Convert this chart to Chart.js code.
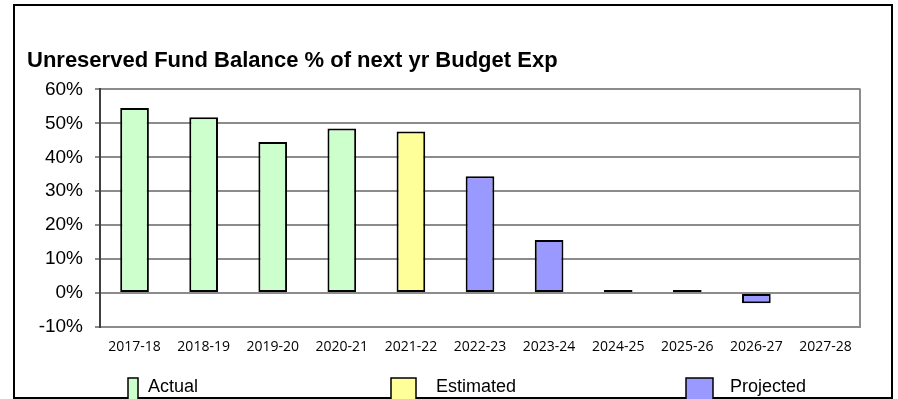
<!DOCTYPE html>
<html>
<head>
<meta charset="utf-8">
<script src="https://cdn.jsdelivr.net/npm/chart.js@4.4.1/dist/chart.umd.min.js"></script>
<style>
  html, body { margin: 0; padding: 0; background: #fff; }
  #wrap { width: 898px; height: 399px; }
</style>
</head>
<body>
<div id="wrap"><canvas id="chart" width="898" height="399"></canvas></div>
<script>
// fiscal years on the x axis
const years = ['2017-18', '2018-19', '2019-20', '2020-21', '2021-22', '2022-23',
  '2023-24', '2024-25', '2025-26', '2026-27', '2027-28'];

// unreserved fund balance as % of next year's budgeted expenditure
const actual    = [54.5, 51.8, 44.5, 48.5, null, null, null, null, null, null, null];
const estimated = [null, null, null, null, 47.6, null, null, null, null, null, null];
const projected = [null, null, null, null, null, 34.4, 15.6, 0.2, 0.9, -3.0, null];

const yTicks = [-10, 0, 10, 20, 30, 40, 50, 60];

// white page with the black outer frame
const pageFrame = {
  id: 'pageFrame',
  beforeDraw(chart) {
    const ctx = chart.ctx;
    ctx.save();
    ctx.fillStyle = '#fff';
    ctx.fillRect(0, 0, chart.width, chart.height);
    ctx.restore();
  },
  afterDraw(chart) {
    const ctx = chart.ctx;
    ctx.save();
    ctx.strokeStyle = '#000';
    ctx.lineWidth = 2;
    ctx.strokeRect(14, 5, 878, 393);
    ctx.restore();
  }
};

// gray line closing the plot area on the right
const plotRight = {
  id: 'plotRight',
  afterDraw(chart) {
    const { ctx, chartArea } = chart;
    ctx.save();
    ctx.strokeStyle = '#8c8c8c';
    ctx.lineWidth = 2;
    ctx.beginPath();
    ctx.moveTo(chartArea.right, chartArea.top - 1);
    ctx.lineTo(chartArea.right, chartArea.bottom + 1);
    ctx.stroke();
    ctx.restore();
  }
};

// legend row along the bottom edge
const bottomLegend = {
  id: 'bottomLegend',
  afterDraw(chart, args, opts) {
    const ctx = chart.ctx;
    ctx.save();
    ctx.font = opts.font;
    ctx.textBaseline = 'middle';
    chart.data.datasets.forEach((ds, i) => {
      const it = opts.items[i];
      ctx.fillStyle = ds.backgroundColor;
      ctx.fillRect(it.x, opts.boxTop, it.w, 24);
      ctx.strokeStyle = '#000';
      ctx.lineWidth = 1.5;
      ctx.strokeRect(it.x, opts.boxTop, it.w, 24);
      ctx.fillStyle = '#000';
      ctx.fillText(ds.label, it.tx, opts.textY);
    });
    ctx.restore();
  }
};

const barStyle = { borderColor: '#000', borderWidth: 2, borderSkipped: false, minBarLength: 3 };

new Chart(document.getElementById('chart'), {
  type: 'bar',
  data: {
    labels: years,
    datasets: [
      { label: 'Actual', data: actual, backgroundColor: '#ccffcc', ...barStyle },
      { label: 'Estimated', data: estimated, backgroundColor: '#ffff99', ...barStyle },
      { label: 'Projected', data: projected, backgroundColor: '#9999ff', ...barStyle }
    ]
  },
  options: {
    responsive: false,
    animation: false,
    grouped: false,
    categoryPercentage: 1,
    barPercentage: 0.415,
    layout: { padding: { left: 27, right: 38, top: 0, bottom: 0 } },
    plugins: {
      legend: { display: false },
      tooltip: { enabled: false },
      title: {
        display: true,
        text: 'Unreserved Fund Balance % of next yr Budget Exp',
        align: 'start',
        color: '#000',
        font: { family: 'Liberation Sans, Arial, sans-serif', size: 22, weight: 'bold' },
        padding: { top: 48, bottom: 15 }
      },
      bottomLegend: {
        font: '18px "Liberation Sans", Arial, sans-serif',
        boxTop: 378,
        textY: 387,
        items: [
          { x: 128, w: 10, tx: 148 },
          { x: 391, w: 25, tx: 436 },
          { x: 686, w: 27, tx: 730 }
        ]
      }
    },
    scales: {
      x: {
        grid: { display: false, drawTicks: false },
        border: { display: true, color: '#8c8c8c', width: 2 },
        ticks: {
          color: '#000',
          padding: 12,
          maxRotation: 0,
          autoSkip: false,
          font: { family: '"Open Sans", sans-serif', size: 14 }
        },
        afterFit(scale) { scale.height = 72; }
      },
      y: {
        min: -10,
        max: 60,
        afterBuildTicks(scale) { scale.ticks = yTicks.map(v => ({ value: v })); },
        grid: { color: '#8c8c8c', lineWidth: 2, tickLength: 5 },
        border: { display: true, color: '#404040', width: 2 },
        ticks: {
          color: '#000',
          padding: 12,
          font: { family: 'Liberation Sans, Arial, sans-serif', size: 19 },
          callback: v => v + '%'
        },
        afterFit(scale) { scale.width = 73; }
      }
    }
  },
  plugins: [pageFrame, plotRight, bottomLegend]
});
</script>
</body>
</html>
